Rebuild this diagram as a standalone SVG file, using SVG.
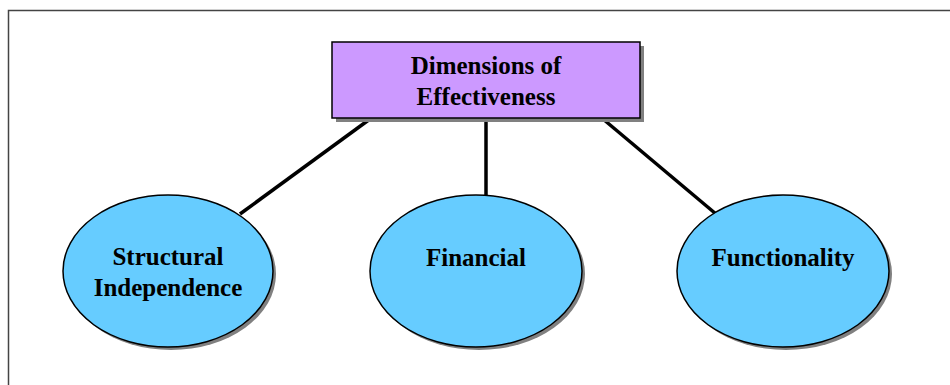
<svg xmlns="http://www.w3.org/2000/svg" width="950" height="385" viewBox="0 0 950 385">
<style>
.lbl{font-family:"Liberation Serif","Times New Roman",serif;font-weight:bold;font-size:25px;fill:#000;text-anchor:middle}
.ell{fill:#66CCFF;stroke:#000;stroke-width:1.5}
.shd{fill:#808080}
.con{stroke:#000;stroke-width:3.5;fill:none}
</style>
<rect width="950" height="385" fill="#fff"/>
<path d="M8.5,385 V10.5 H950" fill="none" stroke="#444" stroke-width="1.5"/>
<g id="connectors">
<line class="con" x1="370" y1="119" x2="240" y2="214"/>
<line class="con" x1="486" y1="119" x2="486" y2="196"/>
<line class="con" x1="603" y1="119" x2="716" y2="214"/>
</g>
<g id="root">
<rect class="shd" x="336" y="46" width="308" height="76"/>
<rect x="332" y="42" width="308" height="76" fill="#CC99FF" stroke="#000" stroke-width="1.5"/>
<text class="lbl" x="486" y="74">Dimensions of</text>
<text class="lbl" x="486" y="105">Effectiveness</text>
</g>
<g id="structural">
<ellipse class="shd" cx="171" cy="274" rx="105" ry="76"/>
<ellipse class="ell" cx="168" cy="271" rx="105" ry="76"/>
<text class="lbl" x="168" y="265">Structural</text>
<text class="lbl" x="168" y="296">Independence</text>
</g>
<g id="financial">
<ellipse class="shd" cx="479" cy="274" rx="106" ry="76"/>
<ellipse class="ell" cx="476" cy="271" rx="106" ry="76"/>
<text class="lbl" x="476" y="266">Financial</text>
</g>
<g id="functionality">
<ellipse class="shd" cx="786" cy="274" rx="106" ry="76"/>
<ellipse class="ell" cx="783" cy="271" rx="106" ry="76"/>
<text class="lbl" x="783" y="266">Functionality</text>
</g>
</svg>
